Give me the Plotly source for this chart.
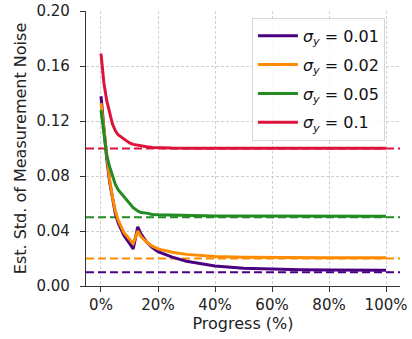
import plotly.graph_objects as go

progress = [0, 1, 2, 3, 4, 5, 6, 8, 10, 11.3, 12.9, 14, 16, 18, 20, 25, 30, 35, 40, 50, 60, 70, 80, 90, 100]

est_001 = [0.138, 0.115, 0.093, 0.076, 0.063, 0.053, 0.046, 0.037, 0.031, 0.027, 0.043, 0.038, 0.032,
           0.028, 0.025, 0.021, 0.018, 0.016, 0.0145, 0.013, 0.0122, 0.0118, 0.0116, 0.0115, 0.0115]
est_002 = [0.133, 0.113, 0.094, 0.078, 0.065, 0.055, 0.048, 0.039, 0.034, 0.031, 0.040, 0.036, 0.032,
           0.029, 0.027, 0.0245, 0.023, 0.022, 0.0215, 0.021, 0.0207, 0.0206, 0.0205, 0.0205, 0.0205]
est_005 = [0.128, 0.110, 0.095, 0.087, 0.080, 0.074, 0.070, 0.065, 0.060, 0.057, 0.0545, 0.0535, 0.053,
           0.052, 0.0518, 0.0515, 0.0512, 0.051, 0.051, 0.0509, 0.0508, 0.0508, 0.0508, 0.0508, 0.0508]
est_01 = [0.169, 0.148, 0.135, 0.126, 0.118, 0.113, 0.110, 0.107, 0.104, 0.103, 0.1023, 0.102, 0.1012,
          0.1008, 0.1005, 0.1003, 0.1002, 0.1002, 0.1002, 0.1002, 0.1002, 0.1002, 0.1002, 0.1002, 0.1002]

sigmas = [0.01, 0.02, 0.05, 0.1]
sigma_labels = ["0.01", "0.02", "0.05", "0.1"]
series = [est_001, est_002, est_005, est_01]
colors = ["#4B0082", "#FF8C00", "#228B22", "#DC143C"]

y_ticks = [0.00, 0.04, 0.08, 0.12, 0.16, 0.20]
x_ticks = [0, 20, 40, 60, 80, 100]
x_tick_text = ["0%", "20%", "40%", "60%", "80%", "100%"]

fig = go.Figure()

for s, c in zip(sigmas, colors):
    fig.add_trace(go.Scatter(x=[-5.26, 104.9], y=[s, s], mode="lines",
                             line=dict(color=c, width=2.2, dash="8px,4px"),
                             showlegend=False, hoverinfo="skip"))

for i, (vals, lab, c) in enumerate(zip(series, sigma_labels, colors)):
    fig.add_trace(go.Scatter(x=progress, y=vals, mode="lines",
                             line=dict(color=c, width=3), legendgroup=f"g{i}",
                             name=f"<i>σ</i><sub><i>y</i></sub> = {lab}"))

fig.update_layout(
    width=412, height=339,
    margin=dict(l=86, r=12, t=11, b=53),
    paper_bgcolor="white", plot_bgcolor="white",
    font=dict(family="DejaVu Sans", size=15, color="#222"),
    legend=dict(x=0.952, y=0.975, xanchor="right", yanchor="top",
                bgcolor="rgba(255,255,255,0.85)", bordercolor="#d6d6d6", borderwidth=1,
                font=dict(size=16, color="#111"), tracegroupgap=5, itemwidth=40),
    showlegend=True,
)
fig.update_xaxes(range=[-5.26, 104.9], tickvals=x_ticks, ticktext=x_tick_text,
                 showline=True, linecolor="#333", linewidth=1.2,
                 ticks="outside", ticklen=5, tickcolor="#333", automargin=False,
                 showgrid=True, gridcolor="#d0d0d0", griddash="3px,2px", gridwidth=0.8,
                 zeroline=False, mirror=False,
                 title=dict(text="Progress (%)", font=dict(size=16), standoff=4))
fig.update_yaxes(range=[0, 0.2], tickvals=y_ticks, tickformat=".2f",
                 showline=True, linecolor="#333", linewidth=1.2,
                 ticks="outside", ticklen=5, tickcolor="#333", automargin=False,
                 ticklabelstandoff=7,
                 showgrid=True, gridcolor="#d0d0d0", griddash="3px,2px", gridwidth=0.8,
                 zeroline=False, mirror=False,
                 title=dict(text="Est. Std. of Measurement Noise", font=dict(size=16), standoff=5))

fig.write_html("out.html", post_script="document.body.style.margin='0';",
               config={"displayModeBar": False})
